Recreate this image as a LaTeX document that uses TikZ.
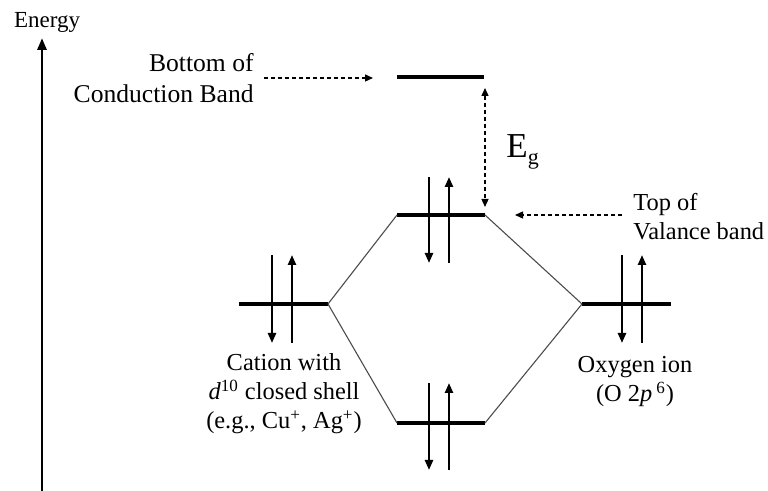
\documentclass[tikz,border=0pt]{standalone}
\usepackage{fontspec}
\setmainfont{Liberation Serif}
\usepackage{tikz}
\usetikzlibrary{arrows.meta,calc}

\begin{document}
\begin{tikzpicture}[x=0.5pt,y=-0.5pt,font=\fontsize{12.2}{14.5}\selectfont,
  level/.style={line width=1.7pt},
  spin/.style={line width=1.2pt,-{Triangle[length=5pt,width=4pt]}},
  link/.style={gray!60!black,line width=0.55pt},
  hint/.style={line width=0.7pt,dash pattern=on 2pt off 1.5pt,-{Triangle[length=4pt,width=3.5pt]}}]
 \useasboundingbox (0,0) rectangle (768,491);
 % energy axis
 \node (energy) at (47,22) {\fontsize{11.5}{13}\selectfont Energy};
 \coordinate (axbot) at (42,491); \coordinate (axtop) at (42,38);
 \draw[line width=1.4pt,-{Triangle[length=6pt,width=4.5pt]}] (axbot) -- (axtop);
 % levels
 \coordinate (cbL) at (397,77);  \coordinate (cbR) at (484,77);
 \coordinate (vbL) at (397,215); \coordinate (vbR) at (485,215);
 \coordinate (bbL) at (397,423); \coordinate (bbR) at (485,423);
 \coordinate (catL) at (239,304); \coordinate (catR) at (328,304);
 \coordinate (oxL) at (582,304); \coordinate (oxR) at (671,304);
 \foreach \a in {cb,vb,bb,cat,ox}{\draw[level] (\a L) -- (\a R);}
 \draw[link] (catR) -- (vbL) (catR) -- (bbL) (vbR) -- (oxL) (bbR) -- (oxL);
 % electron spins
 \foreach \a/\dx/\up/\dn in {vb/32/-38/48,bb/32/-40/47,cat/33/-49/39,ox/40/-49/39}{
   \draw[spin] ($(\a L)+(\dx,\up)$) -- ($(\a L)+(\dx,\dn)$);
   \draw[spin] ($(\a L)+(\dx+20,\dn)$) -- ($(\a L)+(\dx+20,\up)$);}
 % labels
 \node[align=right,anchor=east,inner sep=0pt,font=\fontsize{12.8}{15.5}\selectfont] (cbtext) at (254,78) {Bottom of\\Conduction Band};
 \coordinate (cbtip) at (373,78);
 \draw[hint] ($(cbtext.east)+(10,0)$) -- (cbtip);
 \coordinate (gaptop) at (485,88); \coordinate (gapbot) at (485,207);
 \draw[hint,{Triangle[length=4pt,width=3.5pt]}-{Triangle[length=4pt,width=3.5pt]}] (gaptop) -- (gapbot);
 \node[anchor=base west,inner sep=0pt] (eg) at (506,158) {\fontsize{17.5}{18}\selectfont E\raisebox{-3.5pt}{\fontsize{11}{11}\selectfont g}};
 \node[align=left,anchor=west,inner sep=0pt] (vbtext) at (633,217) {Top of\\Valance band};
 \coordinate (vbtip) at (515,215);
 \draw[hint] ($(vbtext.west)+(-11,-2)$) -- (vbtip);
 \node[align=center] (cattext) at (284,394) {Cation with\\\textit{d}\textsuperscript{10} closed shell\\(e.g., Cu\textsuperscript{+}, Ag\textsuperscript{+})};
 \node[align=center] (oxtext) at (635,382) {Oxygen ion\\(O 2\textit{p}\,\textsuperscript{6})};
\end{tikzpicture}
\end{document}
